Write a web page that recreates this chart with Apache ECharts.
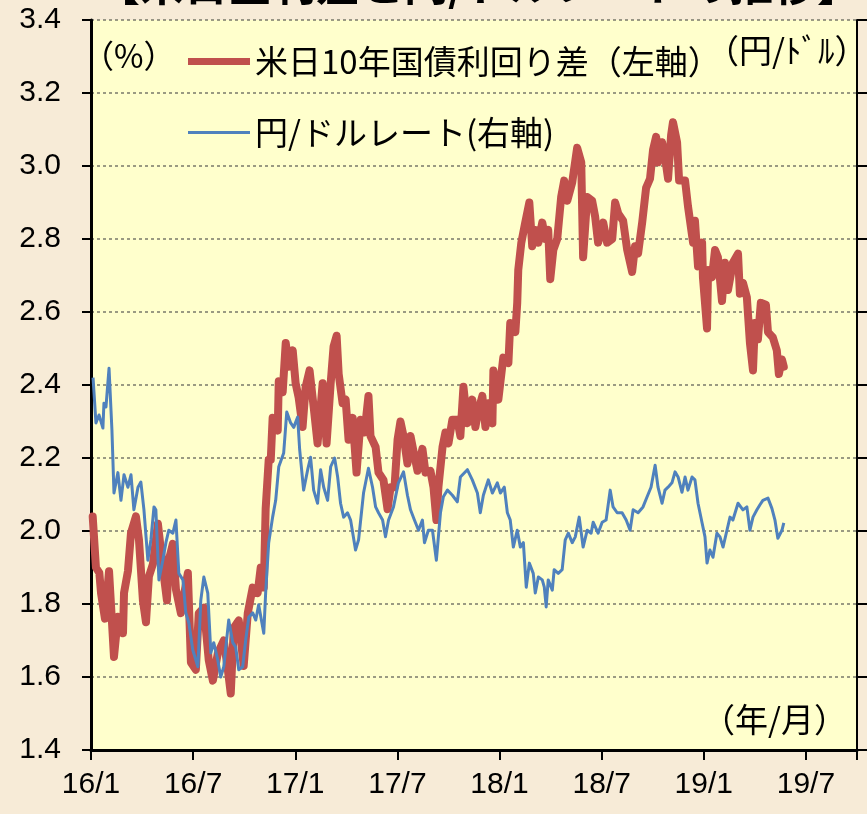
<!DOCTYPE html>
<html>
<head>
<meta charset="utf-8">
<script src="https://cdn.jsdelivr.net/npm/echarts@6/dist/echarts.min.js"></script>
<style>
html,body{margin:0;padding:0;background:#F7EBD7;}
#chart{width:867px;height:814px;}
</style>
</head>
<body>
<div id="chart"></div>
<script>
// x = months elapsed since 2016/1 (fractional)
var spreadName = '米日10年国債利回り差（左軸）';
var rateName = '円/ドルレート(右軸)';
var xTickLabels = ['16/1','16/7','17/1','17/7','18/1','18/7','19/1','19/7'];

// 米日10年国債利回り差 (%)
var spreadData = [
[0.10,2.04],[0.29,1.90],[0.49,1.885],[0.59,1.83],[0.82,1.76],[1.06,1.89],[1.35,1.655],[1.58,1.765],[1.88,1.72],[1.94,1.83],
[2.17,1.89],[2.35,1.995],[2.64,2.04],[2.82,1.975],[3.05,1.81],[3.23,1.75],[3.40,1.875],[3.64,1.91],[3.93,2.02],[4.22,1.90],
[4.46,1.81],[4.57,1.92],[4.81,1.965],[4.99,1.84],[5.28,1.775],[5.69,1.885],[5.87,1.64],[6.16,1.62],[6.33,1.775],[6.63,1.79],
[6.92,1.645],[7.16,1.59],[7.45,1.665],[7.80,1.70],[8.04,1.62],[8.21,1.555],[8.39,1.735],[8.68,1.755],[8.97,1.63],[9.21,1.775],
[9.50,1.845],[9.79,1.83],[9.97,1.90],[10.15,1.845],[10.26,2.06],[10.44,2.195],[10.56,2.195],[10.67,2.31],[10.97,2.275],[11.03,2.41],
[11.26,2.38],[11.44,2.515],[11.61,2.45],[11.85,2.495],[12.02,2.405],[12.20,2.365],[12.43,2.285],[12.61,2.395],[12.84,2.44],[13.08,2.34],
[13.31,2.24],[13.61,2.405],[13.84,2.24],[14.08,2.405],[14.25,2.505],[14.43,2.535],[14.55,2.43],[14.78,2.35],[14.96,2.36],[15.13,2.25],
[15.37,2.31],[15.60,2.16],[15.84,2.305],[16.07,2.27],[16.30,2.37],[16.42,2.26],[16.72,2.23],[16.89,2.16],[17.18,2.14],[17.42,2.06],
[17.60,2.12],[17.83,2.12],[18.01,2.25],[18.18,2.30],[18.36,2.26],[18.59,2.185],[18.77,2.26],[18.94,2.22],[19.18,2.165],[19.47,2.225],
[19.65,2.16],[19.94,2.165],[20.12,2.12],[20.29,2.03],[20.41,2.12],[20.65,2.23],[20.82,2.27],[21.00,2.24],[21.23,2.305],[21.52,2.305],
[21.70,2.26],[21.88,2.395],[22.11,2.295],[22.40,2.36],[22.58,2.285],[22.76,2.33],[22.99,2.37],[23.17,2.285],[23.34,2.35],[23.58,2.295],
[23.64,2.44],[23.93,2.36],[24.22,2.475],[24.52,2.46],[24.63,2.57],[24.93,2.545],[25.04,2.625],[25.10,2.715],[25.28,2.79],[25.51,2.845],
[25.75,2.90],[25.92,2.78],[26.10,2.825],[26.28,2.79],[26.51,2.845],[26.69,2.80],[26.86,2.825],[26.98,2.69],[27.16,2.77],[27.39,2.80],
[27.62,2.915],[27.80,2.96],[27.98,2.905],[28.27,2.955],[28.56,3.05],[28.80,3.01],[28.91,2.75],[29.15,2.915],[29.44,2.905],[29.62,2.86],
[29.79,2.79],[30.09,2.845],[30.32,2.79],[30.62,2.80],[30.79,2.90],[30.97,2.87],[31.26,2.85],[31.50,2.77],[31.79,2.71],[31.96,2.78],
[32.14,2.76],[32.38,2.845],[32.61,2.94],[32.84,2.965],[33.02,3.045],[33.20,3.08],[33.31,3.01],[33.55,3.065],[33.72,3.025],[33.90,2.965],
[34.08,3.085],[34.19,3.12],[34.43,3.065],[34.55,2.96],[34.90,2.96],[35.07,2.89],[35.19,2.85],[35.37,2.79],[35.48,2.85],[35.66,2.725],
[35.90,2.79],[35.95,2.695],[36.19,2.555],[36.25,2.715],[36.48,2.695],[36.66,2.77],[36.83,2.75],[37.07,2.63],[37.24,2.735],[37.42,2.66],
[37.71,2.735],[38.01,2.76],[38.12,2.65],[38.30,2.68],[38.53,2.64],[38.71,2.515],[38.89,2.44],[39.00,2.57],[39.18,2.525],[39.35,2.625],
[39.65,2.62],[39.77,2.545],[40.06,2.53],[40.29,2.495],[40.41,2.43],[40.59,2.47],[40.70,2.45]
];

// 円/ドルレート (円)
var rateData = [
[0.12,120.5],[0.29,117.4],[0.47,117.95],[0.70,117.05],[0.76,118.75],[0.88,118.5],[1.06,121.15],[1.23,116.9],[1.35,112.6],[1.58,114.0],
[1.76,112.1],[1.94,113.85],[2.17,113.0],[2.35,113.85],[2.52,111.45],[2.76,113.0],[2.93,113.35],[3.11,111.45],[3.34,108.0],[3.52,109.4],
[3.70,111.65],[3.81,111.45],[3.99,106.65],[4.22,108.0],[4.40,109.2],[4.57,110.05],[4.81,109.85],[4.99,110.75],[5.16,107.1],[5.40,106.65],
[5.57,104.4],[5.75,103.7],[5.98,101.85],[6.28,100.7],[6.45,105.25],[6.63,106.85],[6.86,105.75],[7.04,101.65],[7.21,102.35],[7.45,101.15],
[7.62,100.0],[7.80,100.7],[8.09,103.9],[8.33,102.35],[8.50,102.05],[8.68,100.5],[8.91,100.7],[9.09,102.55],[9.27,104.1],[9.50,104.4],
[9.68,103.9],[9.85,104.95],[10.15,103.0],[10.26,105.75],[10.44,109.2],[10.67,110.95],[10.85,112.1],[11.03,114.4],[11.32,115.35],[11.50,118.15],
[11.73,117.4],[11.91,117.1],[12.14,117.8],[12.26,115.55],[12.49,112.8],[12.73,114.2],[12.90,115.05],[13.08,112.8],[13.31,111.9],[13.49,114.2],
[13.67,113.0],[13.90,112.1],[14.08,114.4],[14.31,115.0],[14.49,113.7],[14.66,111.9],[14.84,110.95],[15.07,111.25],[15.25,110.75],[15.54,108.7],
[15.72,109.4],[16.01,112.6],[16.30,114.3],[16.54,113.0],[16.72,111.65],[16.89,111.25],[17.13,110.75],[17.30,109.6],[17.48,110.75],[17.77,111.65],
[18.06,113.3],[18.36,114.05],[18.59,112.45],[18.77,111.45],[19.00,110.75],[19.24,110.05],[19.47,110.75],[19.59,109.2],[19.82,110.05],[20.06,110.05],
[20.29,108.0],[20.53,111.25],[20.70,112.35],[20.94,112.8],[21.23,112.45],[21.52,112.0],[21.70,113.7],[22.11,114.2],[22.40,113.5],[22.70,112.6],
[22.87,111.25],[23.05,112.45],[23.34,113.5],[23.58,112.6],[23.87,113.3],[24.05,112.6],[24.28,113.0],[24.46,111.25],[24.63,110.75],[24.81,108.9],
[25.04,110.05],[25.22,108.9],[25.40,109.2],[25.57,106.15],[25.75,107.8],[25.98,107.1],[26.10,105.75],[26.28,106.85],[26.51,106.65],[26.63,106.15],
[26.74,104.8],[26.86,106.65],[27.10,105.95],[27.21,107.35],[27.45,107.1],[27.68,107.35],[27.86,109.4],[28.04,109.85],[28.27,109.2],[28.45,109.6],
[28.68,110.95],[28.91,108.9],[29.15,110.05],[29.38,109.85],[29.50,110.6],[29.79,109.85],[30.03,110.6],[30.26,110.75],[30.50,112.8],[30.67,111.65],
[30.91,111.25],[31.20,111.25],[31.44,110.75],[31.67,110.05],[31.85,111.45],[32.14,111.25],[32.43,111.65],[32.67,112.35],[32.90,113.0],[33.14,114.5],
[33.31,113.0],[33.55,111.9],[33.72,112.8],[33.90,113.0],[34.13,113.3],[34.31,114.05],[34.49,113.7],[34.72,112.65],[34.90,113.7],[35.07,112.8],
[35.31,113.7],[35.48,113.5],[35.66,111.9],[35.90,110.55],[36.07,109.6],[36.19,107.8],[36.36,108.7],[36.54,108.2],[36.77,109.85],[36.95,109.6],
[37.13,108.9],[37.36,110.05],[37.54,110.95],[37.71,110.75],[38.01,111.9],[38.30,111.45],[38.53,111.65],[38.71,110.05],[38.89,110.95],[39.12,111.45],
[39.30,111.8],[39.47,112.1],[39.77,112.25],[40.00,111.55],[40.18,110.75],[40.35,109.5],[40.59,110.05],[40.70,110.55]
];

var numFont = '"Liberation Sans", Arial, sans-serif';
var jpFont = '"Noto Sans CJK JP", sans-serif';

var chart = echarts.init(document.getElementById('chart'), null, {renderer: 'canvas'});
chart.setOption({
  backgroundColor: '#F7EBD7',
  animation: false,
  grid: {left: 91, right: 10, top: 20, bottom: 64, show: true, backgroundColor: '#FFFFCC', borderWidth: 0},
  xAxis: {
    type: 'value', min: 0, max: 45, interval: 6,
    axisLine: {show: true, lineStyle: {color: '#000', width: 3}},
    axisTick: {show: true, length: 10, lineStyle: {color: '#000', width: 2}},
    splitLine: {show: false},
    axisLabel: {
      fontSize: 30, color: '#000', fontFamily: numFont, margin: 20,
      formatter: function (v) { return xTickLabels[Math.round(v / 6)] || ''; }
    }
  },
  yAxis: [{
    type: 'value', min: 1.4, max: 3.4, interval: 0.2, position: 'left',
    axisLine: {show: true, lineStyle: {color: '#000', width: 3}},
    axisTick: {show: true, length: 9, lineStyle: {color: '#000', width: 2}},
    splitLine: {show: true, lineStyle: {color: '#7a7a6a', width: 1.5, type: [3, 3]}},
    axisLabel: {fontSize: 30, color: '#000', fontFamily: numFont, margin: 30,
      formatter: function (v) { return v.toFixed(1); }}
  }, {
    type: 'value', min: 95, max: 145, interval: 5, position: 'right',
    axisLine: {show: true, lineStyle: {color: '#000', width: 2}},
    axisTick: {show: true, length: 10, lineStyle: {color: '#000', width: 2}},
    splitLine: {show: false},
    axisLabel: {show: false}
  }],
  legend: [{
    data: [{name: spreadName, icon: 'path://M0,0H62V7H0Z'}],
    left: 183, top: 40, itemWidth: 62, itemHeight: 7, selectedMode: false,
    textStyle: {fontSize: 33, color: '#000', fontFamily: jpFont}
  }, {
    data: [{name: rateName, icon: 'path://M0,0H62V3H0Z'}],
    left: 183, top: 111, itemWidth: 62, itemHeight: 7, selectedMode: false,
    textStyle: {fontSize: 33, color: '#000', fontFamily: jpFont}
  }],
  graphic: [
    {type: 'text', left: 96, top: -38, style: {text: '【米日金利差と円/ドルレートの推移】', font: 'bold 44px ' + jpFont, fill: '#000'}},
    {type: 'text', left: 82, top: 40, style: {text: '（%）', font: '32px ' + jpFont, fill: '#000'}},
    {type: 'text', left: 706, top: 34, style: {text: '（円/ﾄﾞﾙ）', font: '33px ' + jpFont, fill: '#000'}},
    {type: 'text', left: 702, top: 703, style: {text: '（年/月）', font: '33px ' + jpFont, fill: '#000'}}
  ],
  series: [{
    name: spreadName, type: 'line', yAxisIndex: 0, data: spreadData,
    showSymbol: false, symbol: 'none',
    lineStyle: {color: '#C0504D', width: 8, cap: 'round', join: 'round'},
    itemStyle: {color: '#C0504D'}, z: 2
  }, {
    name: rateName, type: 'line', yAxisIndex: 1, data: rateData,
    showSymbol: false, symbol: 'none',
    lineStyle: {color: '#4F81BD', width: 3, join: 'round'},
    itemStyle: {color: '#4F81BD'}, z: 3
  }]
});
</script>
</body>
</html>
